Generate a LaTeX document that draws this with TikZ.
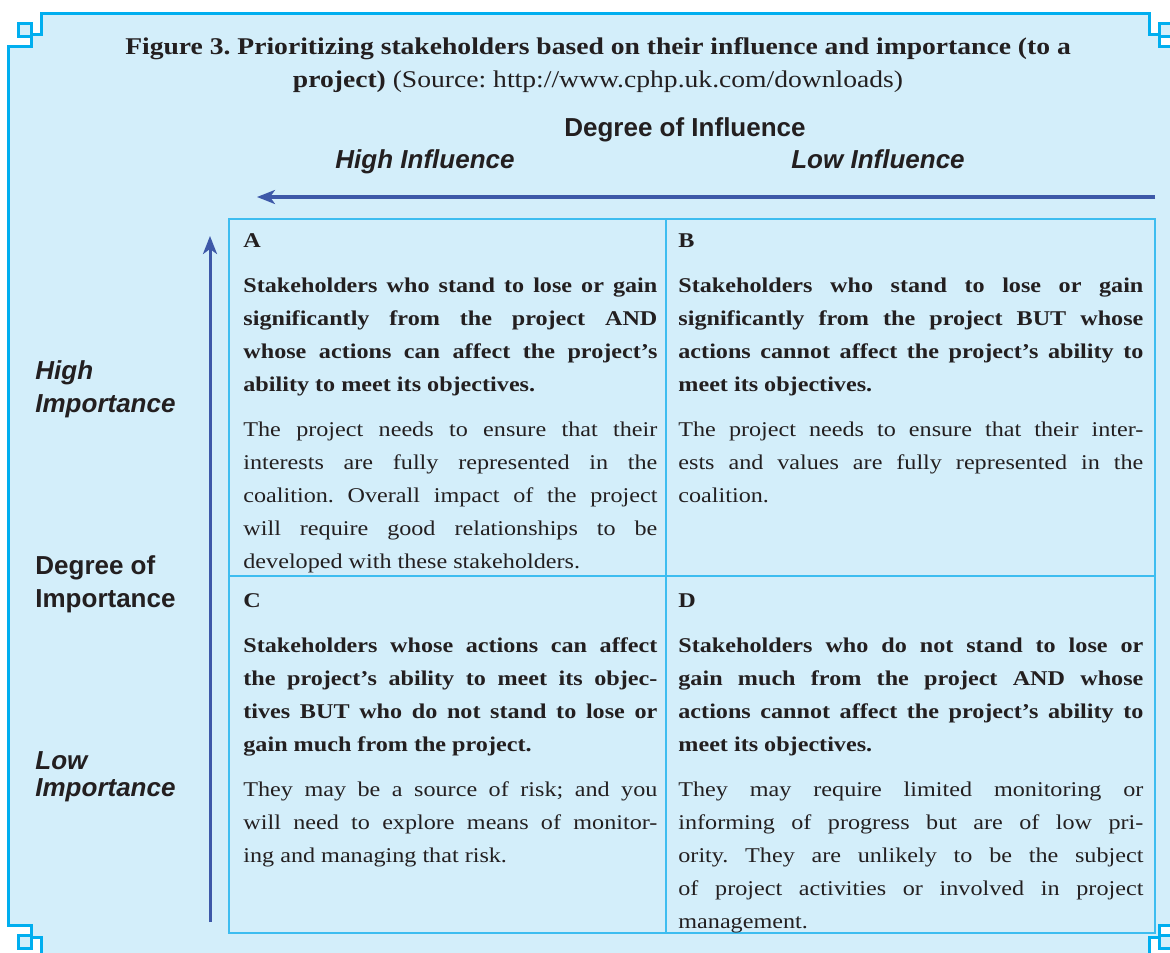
\documentclass[tikz,border=0pt]{standalone}
\usepackage{fontspec}
\setmainfont{Liberation Serif}[FakeStretch=1.15]
\setsansfont{Liberation Sans}
\usetikzlibrary{arrows.meta}
\definecolor{framecyan}{HTML}{00AEEF}
\definecolor{gridcyan}{HTML}{3DBDF0}
\definecolor{paleblue}{HTML}{D3EEFA}
\definecolor{arrowblue}{HTML}{3D58A8}
\definecolor{ink}{HTML}{231F20}
\frenchspacing

\begin{document}
\begin{tikzpicture}[x=0.5pt,y=0.5pt]
\tikzstyle{every node}+=[inner sep=0pt, text=ink]
\tikzstyle{frame}=[draw=framecyan, fill=paleblue, line width=1.5pt]
\tikzstyle{grid}=[draw=gridcyan, line width=1pt]
\tikzstyle{axis}=[draw=arrowblue, line width=1.5pt, -{Stealth[length=9pt,width=7pt,inset=2.5pt]}]
\tikzstyle{axislabel}=[font=\fontsize{13}{16.5}\selectfont\sffamily\bfseries]
\tikzstyle{axislabelit}=[font=\fontsize{13}{16.5}\selectfont\sffamily\bfseries\itshape]
\tikzstyle{cellnarrow}=[anchor=north west, text width=207pt, align=justify,
  font=\fontsize{10.5}{16.5}\selectfont, execute at begin node={\setlength{\parskip}{6pt}}]
\tikzstyle{cellwide}=[cellnarrow, text width=232.5pt]
\useasboundingbox (0,0) rectangle (1170,-952);
\clip (0,0) rectangle (1170,-952);
\path[frame] (41,-14) -- (1149,-14) -- (1149,-35) -- (1159,-35) -- (1159,-47) -- (1182,-47)
  -- (1182,-925) -- (1159,-925) -- (1159,-937) -- (1149,-937) -- (1149,-958) -- (41,-958)
  -- (41,-937) -- (31,-937) -- (31,-925) -- (8,-925) -- (8,-47) -- (31,-47) -- (31,-35)
  -- (41,-35) -- cycle;
\path[frame] (18,-24) rectangle (31,-37);
\path[frame] (1159,-24) rectangle (1172,-37);
\path[frame] (18,-935) rectangle (31,-948);
\path[frame] (1159,-935) rectangle (1172,-948);
\node[anchor=north, align=center, font=\fontsize{12}{16.5}\selectfont] (title) at (598,-37)
  {\textbf{Figure 3. Prioritizing stakeholders based on their influence and importance (to a}\\
   \textbf{project)} (Source: http://www.cphp.uk.com/downloads)};
\node[axislabel, anchor=base] (degInfl) at (685,-137) {Degree of Influence};
\node[axislabelit, anchor=base] (highInfl) at (425,-169) {High Influence};
\node[axislabelit, anchor=base] (lowInfl) at (878,-169) {Low Influence};
\coordinate (inflStart) at (1155,-197);
\coordinate (inflEnd) at (257,-197);
\draw[axis] (inflStart) -- (inflEnd);
\coordinate (impStart) at (210,-922);
\coordinate (impEnd) at (210,-236);
\draw[axis] (impStart) -- (impEnd);
\node[axislabelit, anchor=north west, align=left] (highImp) at (35,-360) {High\\Importance};
\node[axislabel, anchor=north west, align=left] (degImp) at (35,-555) {Degree of\\Importance};
\node[axislabelit, anchor=north west, align=left,
  font=\fontsize{13}{13.5}\selectfont\sffamily\bfseries\itshape] (lowImp) at (35,-751) {Low\\Importance};
\draw[grid] (229,-219) rectangle (1155,-933);
\draw[grid] (666,-219) -- (666,-933);
\draw[grid] (229,-576) -- (1155,-576);
\node[cellnarrow] (cellA) at (243,-233) {\textbf{A}\par
  \textbf{Stakeholders who stand to lose or gain\linebreak significantly from the project AND\linebreak
  whose actions can affect the project's\linebreak ability to meet its objectives.}\par
  The project needs to ensure that their\linebreak interests are fully represented in the\linebreak
  coalition. Overall impact of the project\linebreak will require good relationships to be\linebreak
  developed with these stakeholders.};
\node[cellwide] (cellB) at (678,-233) {\textbf{B}\par
  \textbf{Stakeholders who stand to lose or gain\linebreak significantly from the project BUT whose\linebreak
  actions cannot affect the project's ability to\linebreak meet its objectives.}\par
  The project needs to ensure that their inter-\linebreak ests and values are fully represented in the\linebreak
  coalition.};
\node[cellnarrow] (cellC) at (243,-593) {\textbf{C}\par
  \textbf{Stakeholders whose actions can affect\linebreak the project's ability to meet its objec-\linebreak
  tives BUT who do not stand to lose or\linebreak gain much from the project.}\par
  They may be a source of risk; and you\linebreak will need to explore means of monitor-\linebreak
  ing and managing that risk.};
\node[cellwide] (cellD) at (678,-593) {\textbf{D}\par
  \textbf{Stakeholders who do not stand to lose or\linebreak gain much from the project AND whose\linebreak
  actions cannot affect the project's ability to\linebreak meet its objectives.}\par
  They may require limited monitoring or\linebreak informing of progress but are of low pri-\linebreak
  ority. They are unlikely to be the subject\linebreak of project activities or involved in project\linebreak
  management.};
\end{tikzpicture}
\end{document}
